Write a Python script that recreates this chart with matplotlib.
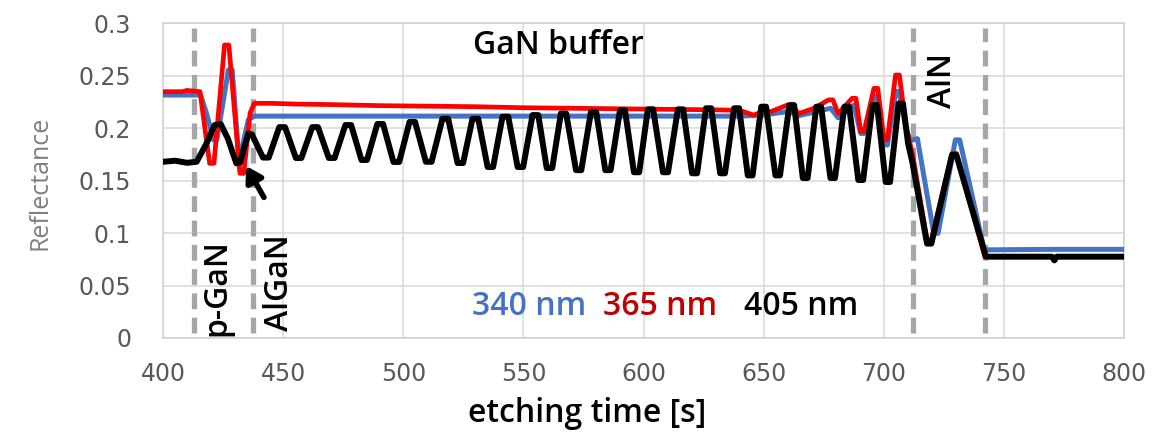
import matplotlib.pyplot as plt

# etching time [s] and reflectance
t_340 = [400, 415.6, 418, 421.0, 422.4, 427.2, 428.8, 431.3, 432.7, 435.5, 438, 450, 500,
         550, 600, 640, 650, 660.5, 664.7, 677.9, 681, 687.6, 690.4, 691.8, 696.0, 697.4,
         700.1, 701.5, 705.0, 706.4, 709.2, 711, 714, 720.8, 722.6, 729.8, 731.6, 741.8,
         770, 800]
r_340 = [0.2316, 0.2316, 0.215, 0.1888, 0.1888, 0.2555, 0.2555, 0.179, 0.179, 0.208,
         0.2115, 0.2115, 0.2115, 0.2115, 0.2115, 0.2115, 0.2126, 0.216, 0.212, 0.219, 0.210,
         0.222, 0.195, 0.195, 0.230, 0.230, 0.184, 0.184, 0.235, 0.235, 0.200, 0.188, 0.190,
         0.0998, 0.0998, 0.1888, 0.1888, 0.084, 0.0845, 0.0845]

t_365 = [400, 408, 410, 415.4, 419.4, 421.2, 425.6, 427.4, 432.0, 433.6, 436.25, 438, 445,
         455, 470, 490, 510, 530, 550, 570, 590, 610, 630, 640, 645.8, 650, 652.9, 659.8,
         661.2, 664.7, 671, 677.0, 678.8, 681, 686.8, 688.4, 690.4, 691.8, 695.9, 697.5,
         700.1, 701.5, 704.9, 706.5, 709.2, 712, 718.0, 719.8, 728.4, 730.2, 742]
r_365 = [0.2348, 0.2348, 0.236, 0.2348, 0.1665, 0.1665, 0.2793, 0.2793, 0.157, 0.157,
         0.2145, 0.2237, 0.2237, 0.223, 0.2225, 0.2215, 0.221, 0.2205, 0.2195, 0.219, 0.2185,
         0.218, 0.2175, 0.217, 0.2125, 0.216, 0.2157, 0.222, 0.222, 0.214, 0.219, 0.227,
         0.227, 0.214, 0.2285, 0.2285, 0.1967, 0.1967, 0.238, 0.238, 0.189, 0.189, 0.2507,
         0.2507, 0.2015, 0.175, 0.0934, 0.0934, 0.176, 0.176, 0.078]

# 405 nm: each extreme of the buffer oscillation read as a short rounded top/bottom
t_405 = [400, 405, 410, 414, 418, 421.5, 424, 427, 430.5, 432, 435.5, 437,
         441.6, 444, 448.4, 450.8, 455.3, 457.6, 462.1, 464.5, 469.0, 471.4,
         475.9, 478.3, 482.6, 484.9, 489.2, 491.6, 495.9, 498.3, 502.6, 504.9,
         509.4, 511.8, 516.3, 518.7, 522.6, 524.9, 528.8, 531.2, 535.1, 537.4,
         541.3, 543.7, 547.6, 549.9, 553.8, 556.2, 559.7, 562.0, 565.6, 567.8,
         571.9, 574.1, 578.1, 580.3, 584.1, 586.3, 590.2, 592.3, 596.0, 598.2,
         601.8, 604.0, 608.1, 610.2, 614.3, 616.5, 620.2, 622.3, 626.0, 628.2,
         631.9, 633.9, 637.7, 639.8, 643.4, 645.4, 649.0, 651.0, 654.9, 656.8,
         660.7, 662.7, 666.3, 668.3, 671.9, 673.9, 677.8, 679.7, 683.6, 685.6,
         689.4, 691.4, 695.3, 697.2, 700.8, 702.6, 706.2, 708.0,
         710.1, 712, 718, 719.8, 728.4, 730.2, 742.5, 770, 771, 772, 800]
r_405 = [0.168, 0.169, 0.167, 0.168, 0.185, 0.203, 0.204, 0.19, 0.1665, 0.167, 0.195, 0.194,
         0.172, 0.172, 0.201, 0.201, 0.1716, 0.1716, 0.201, 0.201, 0.1716, 0.1716,
         0.203, 0.203, 0.1697, 0.1697, 0.204, 0.204, 0.1678, 0.1678, 0.206, 0.206,
         0.168, 0.168, 0.209, 0.209, 0.1668, 0.1668, 0.209, 0.209, 0.163, 0.163,
         0.211, 0.211, 0.163, 0.163, 0.2125, 0.2125, 0.162, 0.162, 0.214, 0.214,
         0.160, 0.160, 0.2155, 0.2155, 0.160, 0.160, 0.217, 0.217, 0.158, 0.158,
         0.218, 0.218, 0.158, 0.158, 0.218, 0.218, 0.157, 0.157, 0.219, 0.219,
         0.157, 0.157, 0.219, 0.219, 0.155, 0.155, 0.2205, 0.2205, 0.155, 0.155,
         0.222, 0.222, 0.1525, 0.1525, 0.2205, 0.2205, 0.1525, 0.1525, 0.2205, 0.2205,
         0.1506, 0.1506, 0.222, 0.222, 0.1487, 0.1487, 0.2235, 0.2235,
         0.1856, 0.1665, 0.090, 0.090, 0.1745, 0.1745, 0.0775, 0.0775, 0.074, 0.0775, 0.0775]

# layer boundaries (dashed lines)
t_layers = [413, 437.5, 712, 742]

x_ticks = [400, 450, 500, 550, 600, 650, 700, 750, 800]
y_ticks = [0, 0.05, 0.1, 0.15, 0.2, 0.25, 0.3]
y_tick_labels = ['0', '0.05', '0.1', '0.15', '0.2', '0.25', '0.3']

blue = '#4472c4'
red = '#ff0000'
font = ['Open Sans', 'DejaVu Sans']

fig = plt.figure(figsize=(11.57, 4.32), dpi=100)
ax = fig.add_axes([0.1409, 0.2176, 0.8306, 0.7285])

ax.grid(True, color='#d9d9d9', linewidth=1.1)
ax.set_axisbelow(True)
for s in ax.spines.values():
    s.set_color('#d0d0d0')
    s.set_linewidth(1.1)

for t in t_layers:
    ax.axvline(t, ymin=0.015, ymax=0.985, color='#a6a6a6', linewidth=3.8,
               dashes=(3.0, 1.6), zorder=2)

ax.plot(t_340, r_340, color=blue, linewidth=3.6, solid_joinstyle='round', zorder=3)
ax.plot(t_365, r_365, color=red, linewidth=3.4, solid_joinstyle='round', zorder=4)
ax.plot(t_405, r_405, color='black', linewidth=4.3, solid_joinstyle='round', zorder=5)

ax.set_xlim(400, 800)
ax.set_ylim(0, 0.3)
ax.set_xticks(x_ticks)
ax.set_yticks(y_ticks)
ax.set_yticklabels(y_tick_labels)
ax.tick_params(length=0, labelsize=17, colors='#595959')
ax.tick_params(axis='y', pad=23)
ax.tick_params(axis='x', pad=17)

txt = dict(fontsize=23, fontweight='semibold', family=font, ha='center', va='center')
ax.text(564.6, 0.279, 'GaN buffer', color='black', **txt)
ax.text(422.4, 0.048, 'p-GaN', rotation=90, color='black', **txt)
ax.text(448.4, 0.053, 'AlGaN', rotation=90, color='black', **txt)
ax.text(724.4, 0.245, 'AlN', rotation=90, color='black', **txt)
ax.text(552.5, 0.0305, '340 nm', color=blue, **txt)
ax.text(607.0, 0.0305, '365 nm', color='#c00000', **txt)
ax.text(665.4, 0.0305, '405 nm', color='black', **txt)

ax.annotate('', xy=(434.6, 0.164), xytext=(442.0, 0.134),
            arrowprops=dict(arrowstyle='-|>,head_width=0.55,head_length=0.9',
                            color='black', lw=4, shrinkA=0, shrinkB=0), zorder=6)

fig.text(587.5 / 1157, 1 - 413 / 432, 'etching time [s]', **txt)
fig.text(40 / 1157, 1 - 182.5 / 432, 'Reflectance', rotation=90, color='#7f7f7f',
         fontsize=18, family=font, ha='center', va='center')

fig.savefig('out.png', dpi=100)
